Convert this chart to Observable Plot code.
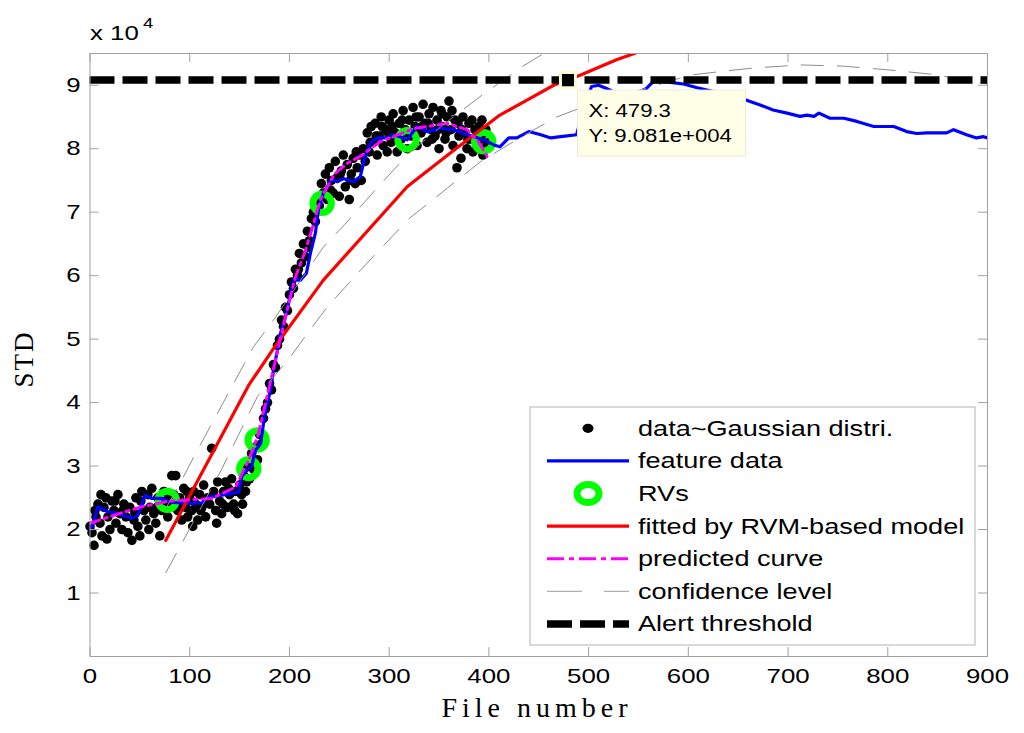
<!DOCTYPE html>
<html><head><meta charset="utf-8">
<script src="https://cdn.jsdelivr.net/npm/d3@7"></script>
<script src="https://cdn.jsdelivr.net/npm/@observablehq/plot@0.6"></script>
<style>body{margin:0;background:#fff} svg{display:block}</style>
</head><body><div id="chart"></div>
<script>
// ---- axis ticks ----
const xTicks = [0, 100, 200, 300, 400, 500, 600, 700, 800, 900];
const yTicks = [1, 2, 3, 4, 5, 6, 7, 8, 9];

// ---- data~Gaussian distri. (black dots), values in 1e4 ----
const dataX = [0,2,4,6,8,10,12,14,16,18,20,22,24,26,28,30,32,34,36,38,40,42,44,46,48,50,52,54,56,58,60,62,64,66,68,70,72,74,76,78,80,82,84,86,88,90,92,94,96,98,100,102,104,106,108,110,112,114,116,118,120,122,124,126,128,130,132,134,136,138,140,142,144,146,148,150,
152,154,156,158,160,162,164,166,168,170,172,174,176,178,180,182,184,186,188,190,192,194,196,198,200,202,204,206,208,210,212,214,216,218,220,222,224,226,228,230,232,234,236,238,240,242,244,246,248,250,252,254,256,258,260,262,264,266,268,270,272,274,276,278,280,282,284,286,288,290,292,294,296,298,300,
302,304,306,308,310,312,314,316,318,320,322,324,326,328,330,332,334,336,338,340,342,344,346,348,350,352,354,356,358,360,362,364,366,368,370,372,374,376,378,380,382,384,386,388,390,392,394,396,398,400,
5,11,17,25,33,45,51,59,67,79,91,97,103,111,117,127,133,139,145,153,157,209,219,241,251,261,267,281,287,293,299,303,309,313,319,327,333,339,343,349,353,357,363,369,373,379,383,389,393,397];
const dataY = [2.05,1.95,1.75,2.2,2.4,2.1,1.9,2.35,2.5,2.2,2.0,2.45,2.3,2.1,2.55,2.25,2.0,2.4,2.2,1.95,2.35,1.83,2.15,2.5,2.05,1.9,2.6,2.3,2.15,2.55,2.35,2.65,2.25,2.1,2.5,1.9,2.3,2.6,2.45,2.2,2.4,2.85,2.55,2.85,2.3,2.5,2.15,2.65,2.35,2.2,2.5,2.3,2.6,2.4,2.15,2.55,2.35,2.7,2.2,2.5,2.4,3.28,2.6,2.3,2.75,2.45,2.25,2.6,2.75,2.35,2.55,2.8,2.4,2.6,2.25,2.7,
2.55,2.85,2.6,3.0,2.8,3.2,2.95,3.3,3.1,3.5,3.35,3.75,3.9,4.0,4.3,4.2,4.6,4.55,4.9,5.0,5.3,5.2,5.5,5.45,5.7,5.9,5.8,6.1,6.0,6.35,6.2,6.5,6.3,6.7,6.55,6.9,7.0,6.85,7.2,7.1,7.45,7.3,7.6,7.2,7.7,7.5,7.3,7.8,7.55,7.25,7.65,7.9,7.4,7.75,7.2,7.6,7.85,7.45,7.7,7.9,7.5,8.0,7.8,8.25,7.95,8.35,8.1,8.4,7.9,8.2,8.5,8.05,8.3,7.95,8.45,
8.1,8.55,8.25,7.95,8.4,8.15,8.6,8.3,8.0,8.45,8.2,8.65,8.35,8.05,8.5,8.25,8.7,8.4,8.1,8.55,8.3,8.65,8.2,8.45,8.0,8.6,8.35,8.15,8.5,8.75,8.3,8.05,8.45,7.7,8.2,7.85,8.5,8.25,8.0,8.4,8.15,7.95,8.3,8.05,8.35,8.15,7.9,8.25,8.05,8.1,
2.3,2.55,1.85,2.45,2.3,2.25,2.45,2.0,2.35,2.55,2.35,2.6,2.05,2.3,2.45,2.1,2.4,2.65,2.3,2.4,2.75,6.1,6.45,7.35,7.6,7.5,7.95,8.1,8.2,8.35,8.25,8.35,8.2,8.45,8.25,8.5,8.35,8.4,8.15,8.3,8.55,8.25,8.6,8.4,8.3,8.15,8.45,8.2,8.45,8.3];

// ---- feature data (blue) ----
const featX = [0,2,8,18,28,42,48,55,62,72,82,96,112,119,132,142,149,152,156,162,166,171,174,177,181,184,188,191,196,199,204,211,217,221,226,229,234,242,248,254,264,271,276,281,288,298,304,312,318,328,338,351,365,378,395,405,411,420,428,440,452,462,472,488,496,503,510,518,530,545,558,565,580,595,609,625,642,657,672,685,699,712,719,726,731,742,756,769,786,806,819,829,839,859,866,879,889,896,900];
const featY = [2.0,2.04,2.36,2.28,2.25,2.18,2.22,2.54,2.49,2.49,2.43,2.41,2.42,2.51,2.54,2.57,2.59,2.83,2.91,2.99,3.25,3.35,3.67,3.93,4.2,4.51,4.83,5.09,5.35,5.56,5.93,5.93,6.04,6.35,6.67,7.03,7.30,7.51,7.48,7.53,7.48,7.56,7.88,8.09,8.17,8.17,8.22,8.18,8.14,8.35,8.27,8.32,8.30,8.22,8.14,8.06,8.03,8.17,8.17,8.27,8.22,8.17,8.19,8.22,8.7,8.98,9.0,8.95,8.86,8.85,8.95,9.06,9.05,9.02,8.96,8.9,8.83,8.77,8.69,8.61,8.56,8.51,8.53,8.51,8.56,8.48,8.48,8.43,8.35,8.35,8.27,8.24,8.25,8.25,8.30,8.22,8.17,8.19,8.17];

// ---- RVs (green rings) ----
const rvX = [77.4, 159.2, 167.6, 232.8, 318, 394.8];
const rvY = [2.46, 2.96, 3.41, 7.14, 8.14, 8.11];

// ---- fitted by RVM-based model (red) ----
const fitX = [76,159,184,234,318,361,411,440,465,492,528,560];
const fitY = [1.83,4.27,4.85,5.93,7.40,7.93,8.53,8.78,9.0,9.16,9.4,9.58];

// ---- predicted curve (magenta) ----
const predX = [0,29,52,80,122,146,159,168,176,186,196,206,215,222,231,245,258,271,291,325,358,378,390,398];
const predY = [2.10,2.25,2.36,2.45,2.49,2.67,3.09,3.46,3.99,4.67,5.35,5.98,6.35,6.7,7.2,7.6,7.77,7.88,8.11,8.32,8.40,8.30,8.10,7.88];

// ---- confidence level (gray dashed) ----
const upX = [76,92,106,164,184,234,255,289,320,356,392,434,455,480];
const upY = [2.33,2.78,3.2,4.88,5.30,6.45,6.80,7.40,7.93,8.40,8.83,9.3,9.5,9.7];
const lowX = [76,92,132,168,200,218,238,278,320,356,392,434,468,510,557,602,640,665,712,756,802,846,870,900];
const lowY = [1.32,1.78,2.95,4.1,4.7,5.09,5.51,6.2,6.9,7.35,7.8,8.2,8.5,8.75,8.95,9.16,9.23,9.27,9.32,9.3,9.24,9.17,9.1,9.02];

// ---- alert threshold & data tip ----
const threshold = 9.081;
const tipX = 479.3;
const tipY = 9.081;

const legendLabels = ["data~Gaussian distri.","feature data","RVs","fitted by RVM-based model","predicted curve","confidence level","Alert threshold"];

// build tables
const dots = dataX.map((x, i) => ({x, y: dataY[i]}));
const feat = featX.map((x, i) => ({x, y: featY[i]}));
const rvs = rvX.map((x, i) => ({x, y: rvY[i]}));
const fit = fitX.map((x, i) => ({x, y: fitY[i]}));
const pred = predX.map((x, i) => ({x, y: predY[i]}));
const up = upX.map((x, i) => ({x, y: upY[i]}));
const low = lowX.map((x, i) => ({x, y: lowY[i]}));

const W = 1024, H = 733, ML = 89.5, MR = 37, MT = 53, MB = 77;
const PW = W - ML - MR, PH = H - MT - MB;
const axisGray = "#a0a0a0";
const sans = "'Liberation Sans', Arial, sans-serif";

const plot = Plot.plot({
  width: W, height: H,
  marginLeft: ML, marginRight: MR, marginTop: MT, marginBottom: MB,
  style: {background: "white", fontFamily: sans, fontSize: "21px", color: "black", overflow: "visible"},
  x: {domain: [0, 900]},
  y: {domain: [0, 9.5]},
  marks: [
    Plot.dot(dots, {x: "x", y: "y", r: 4.8, fill: "black", stroke: "none"}),
    Plot.dot(rvs, {x: "x", y: "y", r: 9.2, stroke: "#00ff00", strokeWidth: 7, fill: "none"}),
    Plot.line(feat, {x: "x", y: "y", stroke: "#0000ff", strokeWidth: 3.2, clip: true}),
    Plot.line(fit, {x: "x", y: "y", stroke: "#ff0000", strokeWidth: 3.2, clip: true}),
    Plot.line(pred, {x: "x", y: "y", stroke: "#ff00ff", strokeWidth: 3, strokeDasharray: "10,5,3,5", clip: true}),
    Plot.line(up, {x: "x", y: "y", stroke: "#8c8c8c", strokeWidth: 1, strokeDasharray: "22,14", clip: true}),
    Plot.line(low, {x: "x", y: "y", stroke: "#8c8c8c", strokeWidth: 1, strokeDasharray: "22,14", clip: true}),
    Plot.ruleY([threshold], {stroke: "black", strokeWidth: 7.5, strokeDasharray: "25,8"}),
    Plot.dot([{x: tipX, y: tipY}], {x: "x", y: "y", symbol: "square", r: 8.5, fill: "black", stroke: "#fbfbd8", strokeWidth: 3}),
    Plot.frame({stroke: axisGray}),
    Plot.ruleX(xTicks, {stroke: axisGray, insetTop: PH - 9}),
    Plot.ruleX(xTicks, {stroke: axisGray, insetBottom: PH - 9}),
    Plot.ruleY(yTicks, {stroke: axisGray, insetRight: PW - 9}),
    Plot.ruleY(yTicks, {stroke: axisGray, insetLeft: PW - 9}),
    Plot.axisX(xTicks, {tickSize: 0, tickPadding: 11.5, label: null, fontSize: 21, tickFormat: d => String(d)}),
    Plot.axisY(yTicks, {tickSize: 0, tickPadding: 9.5, label: null, fontSize: 21, tickFormat: d => String(d)})
  ]
});

document.getElementById("chart").appendChild(plot);
const svg = d3.select(plot);
const sx = plot.scale("x"), sy = plot.scale("y");

// multiplier label
svg.append("text").attr("class", "st").attr("text-anchor", "start").attr("x", 90).attr("y", 40).attr("font-size", 21).attr("fill", "black").text("x 10");
svg.append("text").attr("class", "st").attr("text-anchor", "start").attr("x", 143).attr("y", 28).attr("font-size", 15).attr("fill", "black").text("4");

// axis labels (serif)
svg.append("text").attr("class", "serif").attr("transform", "translate(33,359) rotate(-90)")
  .attr("text-anchor", "middle").attr("font-family", "'Liberation Serif', 'Times New Roman', serif")
  .attr("font-size", 27).attr("letter-spacing", 2).attr("fill", "black").text("STD");
svg.append("text").attr("class", "serif").attr("x", 537).attr("y", 717)
  .attr("text-anchor", "middle").attr("font-family", "'Liberation Serif', 'Times New Roman', serif")
  .attr("font-size", 28).attr("letter-spacing", 5).attr("fill", "black").text("File number");

// data tip box
const tpx = sx.apply(tipX), tpy = sy.apply(tipY);
const tip = svg.append("g");
tip.append("rect").attr("x", tpx + 10).attr("y", tpy + 10.5).attr("width", 168).attr("height", 66)
  .attr("fill", "#ffffe8").attr("stroke", "#ecebd6").attr("stroke-width", 1);
tip.append("text").attr("class", "st").attr("text-anchor", "start").attr("x", tpx + 21).attr("y", tpy + 37).attr("font-size", 18).attr("fill", "black").text("X: " + tipX);
tip.append("text").attr("class", "st").attr("text-anchor", "start").attr("x", tpx + 21).attr("y", tpy + 62).attr("font-size", 18).attr("fill", "black").text("Y: 9.081e+004");

// legend
const lg = svg.append("g");
lg.append("rect").attr("x", 530).attr("y", 407).attr("width", 445).attr("height", 238)
  .attr("fill", "white").attr("stroke", "#b4b4b4").attr("stroke-width", 1);
const rowY = i => 428.3 + 32.6 * i;
const sx0 = 547, sx1 = 629, scx = 588;
lg.append("ellipse").attr("cx", scx).attr("cy", rowY(0)).attr("rx", 5.5).attr("ry", 4.6).attr("fill", "black");
lg.append("line").attr("x1", sx0).attr("x2", sx1).attr("y1", rowY(1)).attr("y2", rowY(1)).attr("stroke", "#0000ff").attr("stroke-width", 3.2);
lg.append("ellipse").attr("cx", scx).attr("cy", rowY(2)).attr("rx", 11).attr("ry", 9).attr("fill", "none").attr("stroke", "#00ff00").attr("stroke-width", 7);
lg.append("line").attr("x1", sx0).attr("x2", sx1).attr("y1", rowY(3)).attr("y2", rowY(3)).attr("stroke", "#ff0000").attr("stroke-width", 3.2);
lg.append("line").attr("x1", sx0).attr("x2", sx1).attr("y1", rowY(4)).attr("y2", rowY(4)).attr("stroke", "#ff00ff").attr("stroke-width", 3).attr("stroke-dasharray", "17,5,5,5");
lg.append("line").attr("x1", sx0).attr("x2", sx1).attr("y1", rowY(5)).attr("y2", rowY(5)).attr("stroke", "#b0b0b0").attr("stroke-width", 1.2).attr("stroke-dasharray", "35,22");
lg.append("line").attr("x1", sx0).attr("x2", sx1).attr("y1", rowY(6)).attr("y2", rowY(6)).attr("stroke", "black").attr("stroke-width", 7.5).attr("stroke-dasharray", "25,8");
legendLabels.forEach((t, i) => {
  lg.append("text").attr("class", "st lgt").attr("text-anchor", "start").attr("x", 638).attr("y", rowY(i) + 7.5).attr("font-size", 21.5)
    .attr("font-family", sans).attr("fill", "black").text(t);
});

// horizontal stretch of sans texts to match the reference's wide rendering
plot.querySelectorAll("text").forEach(t => {
  if (t.classList.contains("serif")) return;
  const K = t.classList.contains("lgt") ? 1.26 : 1.23;
  const L = t.getComputedTextLength();
  if (L > 0) {
    t.setAttribute("textLength", (L * K).toFixed(2));
    t.setAttribute("lengthAdjust", "spacingAndGlyphs");
  }
});
</script>
</body></html>
